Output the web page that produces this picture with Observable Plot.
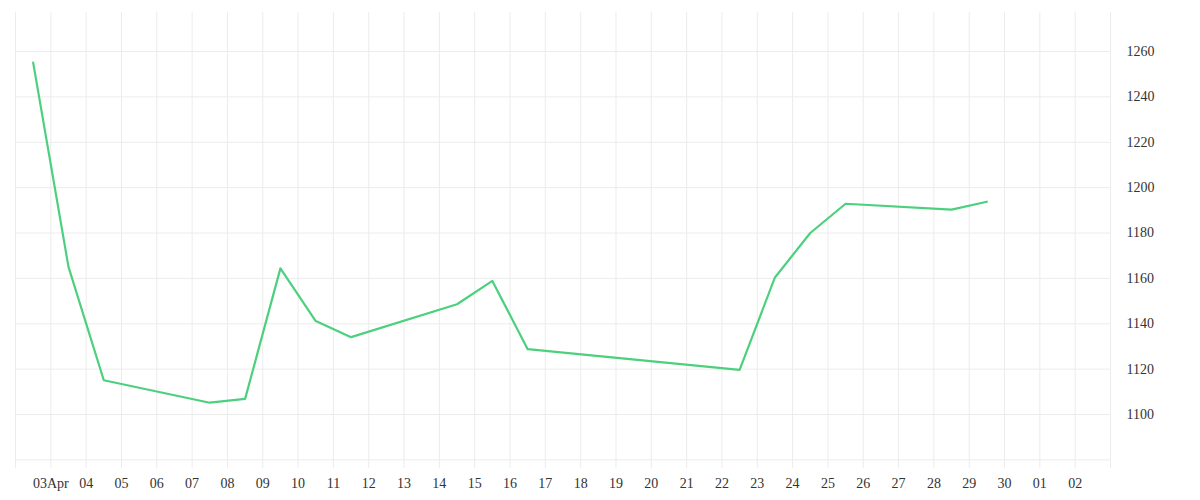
<!DOCTYPE html>
<html><head><meta charset="utf-8">
<script src="https://cdn.jsdelivr.net/npm/d3@7"></script>
<script src="https://cdn.jsdelivr.net/npm/@observablehq/plot@0.6"></script>
<style>html,body{margin:0;padding:0;background:#fff} svg{display:block}</style>
</head><body><div id="chart"></div>
<script>
// Data (one value per trading day)
const dates = ["2025-04-02","2025-04-03","2025-04-04","2025-04-07","2025-04-08","2025-04-09","2025-04-10","2025-04-11","2025-04-14","2025-04-15","2025-04-16","2025-04-22","2025-04-23","2025-04-24","2025-04-25","2025-04-28","2025-04-29"];
const values = [1255.1,1165.1,1115.1,1105.2,1106.9,1164.4,1141.2,1134.1,1148.6,1158.9,1128.8,1119.7,1160.4,1180.0,1192.9,1190.3,1193.8];

// Axis ticks
const yTicks = [1100,1120,1140,1160,1180,1200,1220,1240,1260];
const yGrid = [1080,1100,1120,1140,1160,1180,1200,1220,1240,1260];
const yDomain = [1076.2, 1277.2];
const xStart = "2025-04-02", xEnd = "2025-05-03";
const xTickLabels = ["03Apr","04","05","06","07","08","09","10","11","12","13","14","15","16","17","18","19","20","21","22","23","24","25","26","27","28","29","30","01","02"];

const parse = d3.utcParse("%Y-%m-%d");
const start = parse(xStart), end = parse(xEnd);
const gridDays = d3.utcDay.range(start, d3.utcDay.offset(end, 1));
const tickDays = d3.utcDay.range(d3.utcDay.offset(start, 1), end);
const labelMap = new Map(tickDays.map((d, i) => [+d, xTickLabels[i]]));
const data = dates.map((d, i) => ({date: d3.utcHour.offset(parse(d), 12), value: values[i]}));

const chart = Plot.plot({
  width: 1200,
  height: 500,
  marginLeft: 15,
  marginRight: 90,
  marginTop: 12,
  marginBottom: 32,
  style: {fontFamily: "'Liberation Serif', serif", fontSize: "14px", color: "#333", background: "#fff"},
  x: {type: "utc", domain: [start, end]},
  y: {domain: yDomain},
  marks: [
    Plot.ruleX(gridDays, {stroke: "#ececec", strokeWidth: 1}),
    Plot.ruleY(yGrid, {stroke: "#ececec", strokeWidth: 1}),
    Plot.axisY(yTicks, {anchor: "right", tickSize: 0, tickPadding: 16, label: null, fill: "#333", tickFormat: d => String(d)}),
    Plot.axisX(tickDays, {anchor: "bottom", tickSize: 0, tickPadding: 10, label: null, fill: "#333", tickFormat: d => labelMap.get(+d)}),
    Plot.line(data, {x: "date", y: "value", stroke: "#4cd07e", strokeWidth: 2.2})
  ]
});
document.getElementById("chart").appendChild(chart);
</script>
</body></html>
